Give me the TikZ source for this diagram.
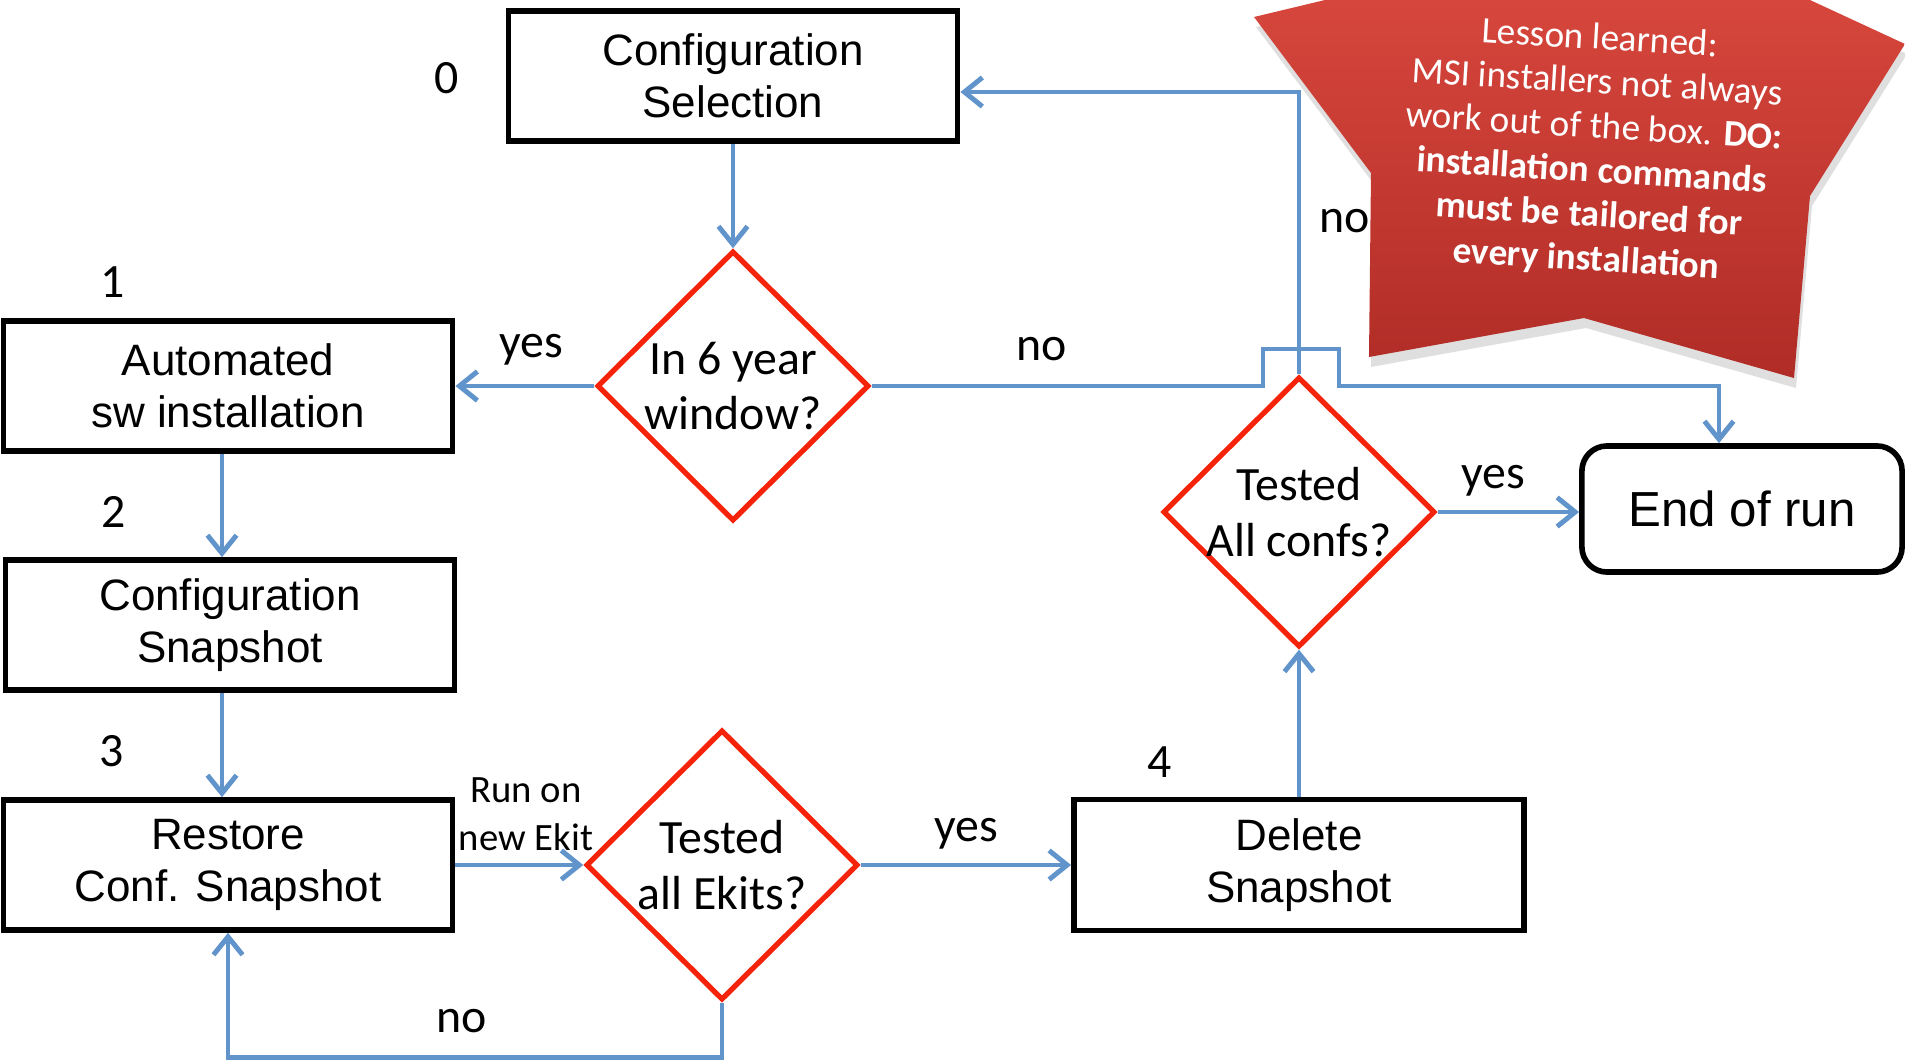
\documentclass[tikz,border=0pt]{standalone}
\usepackage{fontspec}
\setmainfont{Liberation Sans}
\newfontfamily\calfont{Carlito}
\usetikzlibrary{shapes.geometric,arrows.meta,shadows}
\definecolor{flowblue}{RGB}{96,148,203}
\definecolor{decred}{RGB}{245,35,10}
\definecolor{lessontop}{RGB}{214,70,60}
\definecolor{lessonbot}{RGB}{176,44,38}
\tikzset{
  procbox/.style={draw, line width=1.6pt, minimum width=4.49cm, minimum height=1.3cm,
    align=center, font=\fontsize{12.5}{14.8}\selectfont},
  decbox/.style={diamond, draw=decred, line width=1.5pt, minimum width=2.72cm,
    minimum height=2.7cm, inner sep=0pt},
  dectext/.style={align=center, font=\calfont\fontsize{13.6}{15.9}\selectfont},
  flow/.style={draw=flowblue, line width=1.4pt, -{Straight Barb[length=1.8mm,width=2.9mm]}},
  lbl/.style={font=\calfont\fontsize{13.6}{15}\selectfont, inner sep=0pt},
  lessontext/.style={text=white, align=center, font=\calfont\fontsize{10.6}{12.6}\selectfont},
}
\begin{document}
\begin{tikzpicture}[x=0.01cm, y=-0.01cm]
	\useasboundingbox (0,0) rectangle (1905,1060);
	\node[procbox] (confsel) at (733,76) {Configuration\\Selection};
	\node[decbox, label={[dectext]center:{In 6 year\\window?}}] (window) at (733,386) {};
	\node[procbox] (autoinst) at (228,386) {Automated\\sw installation};
	\node[procbox] (confsnap) at (230,625) {Configuration\\Snapshot};
	\node[procbox] (restore) at (228,865) {Restore\\Conf. Snapshot};
	\node[decbox, label={[dectext]center:{Tested\\all Ekits?}}] (ekits) at (722,865) {};
	\node[procbox, minimum width=4.5cm, minimum height=1.31cm] (delsnap) at (1299,865) {Delete\\Snapshot};
	\node[decbox, label={[dectext]center:{Tested\\All confs?}}] (confs) at (1299,512) {};
	\node[procbox, rounded corners=2.5mm, minimum width=3.2cm, minimum height=1.26cm,
		font=\fontsize{14}{16}\selectfont] (endrun) at (1742,509) {End of run};

	\node[lbl] (n0) at (447,78) {0};
	\node[lbl] (n1) at (113,282) {1};
	\node[lbl] (n2) at (114,512) {2};
	\node[lbl] (n3) at (112,751) {3};
	\node[lbl] (n4) at (1160,762) {4};
	\node[lbl] (yes1) at (531,350) {yes};
	\node[lbl] (no1) at (1042,349) {no};
	\node[lbl, align=center, font=\calfont\fontsize{11}{13.5}\selectfont] (runon) at (526,814) {Run on\\new Ekit};
	\node[lbl] (no2) at (462,1021) {no};
	\node[lbl] (yes2) at (966,834) {yes};
	\node[lbl] (yes3) at (1493,481) {yes};
	\node[lbl] (no3) at (1345,221) {no};

	\coordinate (selin) at ([yshift=-1.6mm]confsel.east);
	\coordinate (endin) at ([xshift=-2.3mm]endrun.north);
	\coordinate (leftdrop) at ([xshift=-0.6mm]autoinst.south);
	\draw[flow] (confsel) -- (window);
	\draw[flow] (window) -- (autoinst);
	\draw[flow] (leftdrop) -- (leftdrop |- confsnap.north);
	\draw[flow] (leftdrop |- confsnap.south) -- (leftdrop |- restore.north);
	\draw[flow] (restore) -- (ekits);
	\draw[flow] (ekits.south) -- ++(0,55) -| (restore.south);
	\draw[flow] (ekits) -- (delsnap);
	\draw[flow] (delsnap) -- (confs);
	\draw[flow] (confs.east) -- (confs.east -| endrun.west);
	\draw[flow] (confs.north) |- (selin);
	\draw[flow] (window.east) -- ([xshift=-3.6mm]window.east -| confs.north) -- ++(0,-37)
		-- ++(76,0) -- ++(0,37) -| (endin);

	\shade[top color=lessontop, bottom color=lessonbot,
		drop shadow={shadow xshift=0.2mm, shadow yshift=-1mm, opacity=0.25}]
		(1254,17) -- (1325,0) -- (1810,0) -- (1905,44) -- (1810,196) -- (1794,378)
		-- (1584,318) -- (1369,357) -- (1371,173) -- cycle;
	\node[lessontext, rotate=-3.5] (lesson) at (1593,150)
		{Lesson learned:\\MSI installers not always\\work out of the box. \textbf{DO:}\\
		\textbf{installation commands}\\\textbf{must be tailored for}\\\textbf{every installation}};
\end{tikzpicture}
\end{document}
